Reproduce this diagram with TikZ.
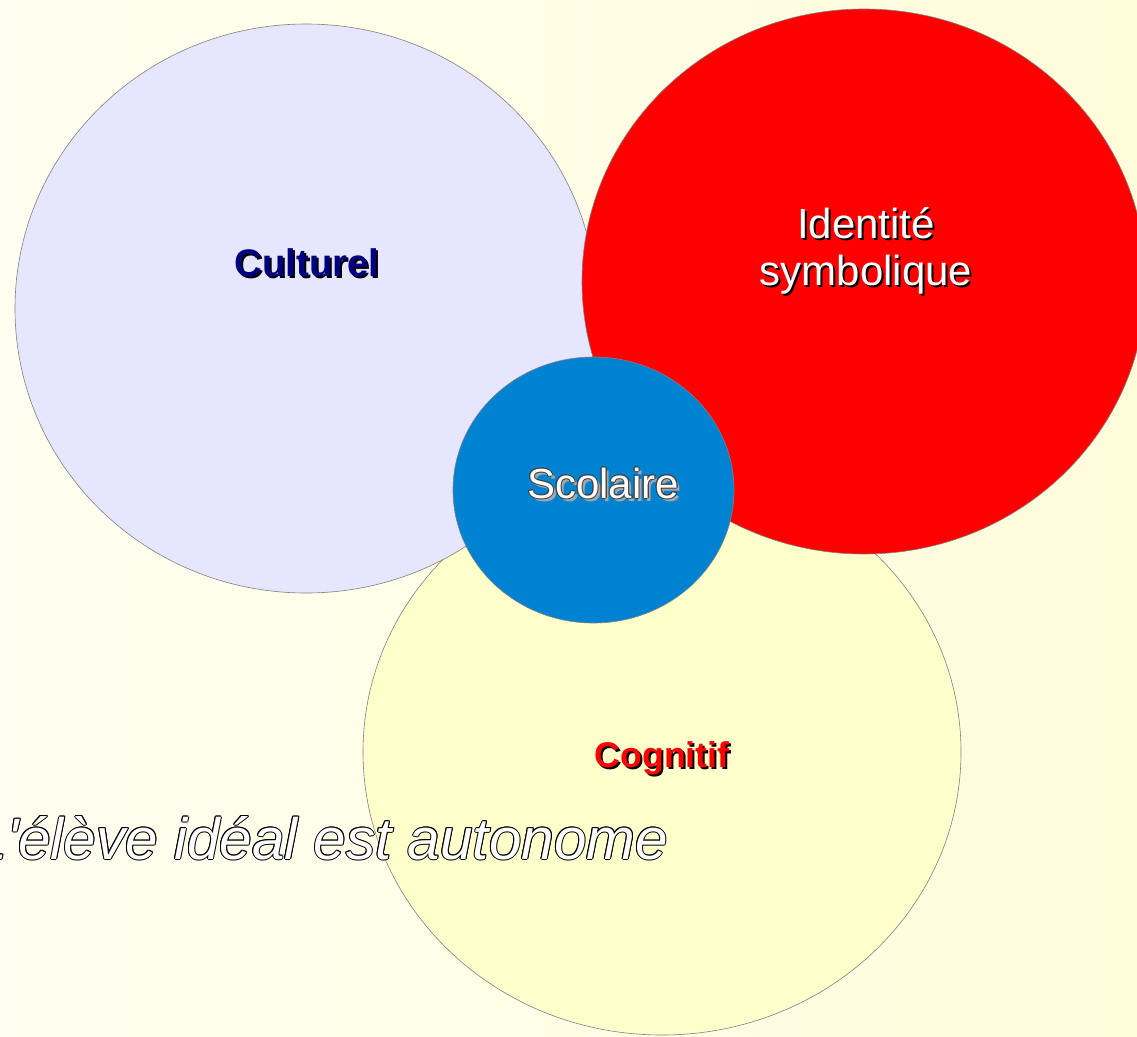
\documentclass[tikz,border=0pt]{standalone}
\usepackage{fontspec}
\setmainfont{Liberation Sans}
\usepackage{xcolor}
\usepackage{tikz}
\usetikzlibrary{shapes.geometric}
\definecolor{lavande}{HTML}{E6E6FF}
\definecolor{rouge}{HTML}{FF0000}
\definecolor{bleu}{HTML}{0082D2}
\definecolor{jaune}{HTML}{FFFFCC}
\definecolor{marine}{HTML}{000080}
\definecolor{fondg}{HTML}{FFFEF0}
\definecolor{fondd}{HTML}{FFFDDA}

% texte avec ombre portee
\newcommand\ombre[3]{\makebox[0pt][l]{\hspace*{2pt}\raisebox{-2pt}{\color{#1}#3}}{\color{#2}#3}}
% texte au contour
\newcommand\detour[3]{%
\foreach \dx/\dy in {1/0,-1/0,0/1,0/-1,.7/.7,.7/-.7,-.7/.7,-.7/-.7}{%
\makebox[0pt][l]{\hspace*{\dx pt}\raisebox{\dy pt}{\color{#1}#3}}}%
{\color{#2}#3}}

\tikzstyle{bulle} = [ellipse, 
draw=gray, 
line width=0.6pt, 
inner sep=0pt]
\tikzstyle{titre} = [inner sep=0pt, 
anchor=base]

\begin{document}
\begin{tikzpicture}[x=1pt, y=-1pt]
			\useasboundingbox (0,0) rectangle (1137,1036);
			\clip (0,0) rectangle (1137,1036);
			\shade [left color=fondg, right color=fondd] (0,0) rectangle (1137,1036);
			
			\node (cognitif)[bulle, fill=jaune, minimum width=598pt, minimum height=566pt] at (662,752) {};
			\node (culturel)[bulle, fill=lavande, minimum width=582pt, minimum height=569pt] at (306,308.5) {};
			\node (identite)[bulle, fill=rouge, minimum width=564pt, minimum height=545pt] at (864,281.5) {};
			\node (scolaire)[bulle, fill=bleu, minimum width=281pt, minimum height=266pt] at (593.5,490) {};
			
			\node (tCulturel)[titre, font=\fontsize{38.4}{44}\selectfont\bfseries] at (307,276) {\ombre{black}{marine}{Culturel}};
			\node (tIdentite)[titre, anchor=center, align=center, font=\fontsize{42}{47}\selectfont] at (866,252) {\ombre{black}{white}{Identité}\\ \ombre{black}{white}{symbolique}};
			\node (tScolaire)[titre, font=\fontsize{42}{48}\selectfont] at (603,498) {\makebox[0pt][l]{\hspace*{3pt}\raisebox{-3pt}{\color{gray!70}Scolaire}}\detour{black!75}{white}{Scolaire}};
			\node (tCognitif)[titre, font=\fontsize{35.7}{40}\selectfont\bfseries] at (662,767) {\ombre{black}{rouge}{Cognitif}};
			
			\node (autonome)[titre, anchor=base east, font=\fontsize{58.4}{64}\selectfont\itshape] at (668,859) {\detour{black}{white}{L\textquotesingle élève idéal est autonome}};
		\end{tikzpicture}
\end{document}
